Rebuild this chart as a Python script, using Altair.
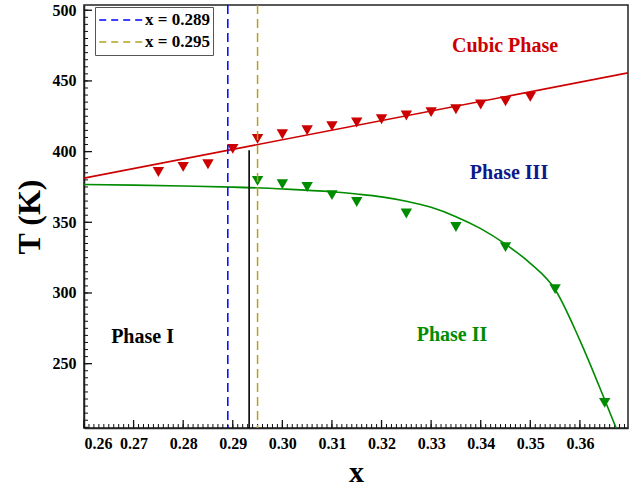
import altair as alt
import pandas as pd

# ---------------- data ----------------
red_x = [0.275, 0.280, 0.285, 0.290, 0.295, 0.300, 0.305, 0.310,
         0.315, 0.320, 0.325, 0.330, 0.335, 0.340, 0.345, 0.350]
red_T = [385.6, 389.2, 391.1, 401.9, 409.0, 412.3, 415.1, 418.0,
         420.6, 422.9, 425.5, 427.9, 430.0, 433.3, 435.6, 438.7]

green_x = [0.295, 0.300, 0.305, 0.310, 0.315, 0.325, 0.335, 0.345, 0.355, 0.365]
green_T = [379.3, 376.9, 375.0, 369.2, 364.4, 356.2, 346.7, 332.4, 302.7, 222.3]

red_fit_x = [0.26, 0.3697]
red_fit_T = [381.2, 455.7]

green_fit_x = [0.260, 0.270, 0.280, 0.290, 0.300, 0.310, 0.315, 0.320, 0.325,
               0.330, 0.335, 0.340, 0.345, 0.350, 0.355, 0.360, 0.365, 0.3673]
green_fit_T = [376.7, 376.3, 375.7, 374.9, 373.6, 371.6, 370.0, 368.0, 364.9,
               360.6, 354.0, 345.5, 334.5, 321.0, 302.5, 266.5, 224.5, 204.5]

boundary_x = [0.289, 0.295]
boundary_label = ["x = 0.289", "x = 0.295"]
boundary_color = ["#0000ff", "#b3a31c"]

black_x = [0.2933]
black_top = [401.0]

phase_text = ["Cubic Phase", "Phase III", "Phase I", "Phase II"]
phase_x = [0.3449, 0.3457, 0.2718, 0.3342]
phase_T = [475.0, 385.0, 269.0, 270.5]
phase_color = ["#cc0000", "#0a1a8a", "#000000", "#008c00"]

x_ticks = [0.26, 0.27, 0.28, 0.29, 0.30, 0.31, 0.32, 0.33, 0.34, 0.35, 0.36]
y_ticks = [250, 300, 350, 400, 450, 500]
x_minor = [round(0.26 + i * 0.001, 3) for i in range(0, 110)]
y_minor = [205 + i * 5 for i in range(0, 60)]

X_DOMAIN = [0.26, 0.3697]
Y_DOMAIN = [204.5, 503.7]

W, H = 544, 423
FONT = "Liberation Serif"
RED = "#cc0000"
GREEN = "#008c00"
TICK = "#111111"

xs = alt.Scale(domain=X_DOMAIN, nice=False, zero=False)
ys = alt.Scale(domain=Y_DOMAIN, nice=False, zero=False)

x_main = alt.Axis(values=x_ticks, format=".2f", orient="bottom", ticks=False,
                  labelPadding=7, title="x", titlePadding=6, domain=True)
y_main = alt.Axis(values=y_ticks, format="d", orient="left", ticks=False,
                  labelPadding=8, title="T (K)", titlePadding=6, domain=True)

df_red_fit = pd.DataFrame({"x": red_fit_x, "T": red_fit_T})
df_green_fit = pd.DataFrame({"x": green_fit_x, "T": green_fit_T})
df_red = pd.DataFrame({"x": red_x, "T": red_T})
df_green = pd.DataFrame({"x": green_x, "T": green_T})
df_bound = pd.DataFrame({"x": boundary_x, "label": boundary_label})
df_black = pd.DataFrame({"x": black_x, "T": black_top, "T2": [Y_DOMAIN[0]]})
df_txt = pd.DataFrame({"x": phase_x, "T": phase_T, "label": phase_text, "c": phase_color})

red_line = alt.Chart(df_red_fit).mark_line(color=RED, strokeWidth=1.6, clip=True).encode(
    x=alt.X("x:Q", scale=xs, axis=x_main),
    y=alt.Y("T:Q", scale=ys, axis=y_main),
)

green_line = alt.Chart(df_green_fit).mark_line(color=GREEN, strokeWidth=1.6,
                                               interpolate="monotone", clip=True).encode(
    x=alt.X("x:Q", scale=xs, axis=None),
    y=alt.Y("T:Q", scale=ys, axis=None),
)

red_pts = alt.Chart(df_red).mark_point(shape="triangle-down", filled=True, size=130,
                                       opacity=1, color=RED).encode(
    x=alt.X("x:Q", scale=xs, axis=None),
    y=alt.Y("T:Q", scale=ys, axis=None),
)

green_pts = alt.Chart(df_green).mark_point(shape="triangle-down", filled=True, size=130,
                                           opacity=1, color=GREEN).encode(
    x=alt.X("x:Q", scale=xs, axis=None),
    y=alt.Y("T:Q", scale=ys, axis=None),
)

bounds = alt.Chart(df_bound).mark_rule(strokeDash=[9, 5], strokeWidth=1.5, opacity=1).encode(
    x=alt.X("x:Q", scale=xs, axis=None),
    color=alt.Color(
        "label:N",
        scale=alt.Scale(domain=boundary_label, range=boundary_color),
        legend=alt.Legend(
            orient="none", legendX=11, legendY=2, title=None,
            strokeColor="#555", fillColor="white", padding=3,
            symbolType="stroke", symbolSize=1900, symbolStrokeWidth=1.5,
            symbolDash=[7, 5], symbolOpacity=1, clipHeight=20,
            labelFont=FONT, labelFontSize=17,
            labelFontWeight="bold", labelColor="black", labelOffset=1,
            rowPadding=2,
        ),
    ),
)

black_rule = alt.Chart(df_black).mark_rule(color="black", strokeWidth=1.6).encode(
    x=alt.X("x:Q", scale=xs, axis=None),
    y=alt.Y("T:Q", scale=ys, axis=None),
    y2="T2:Q",
)

texts = alt.Chart(df_txt).mark_text(font=FONT, fontSize=20, fontWeight="bold").encode(
    x=alt.X("x:Q", scale=xs, axis=None),
    y=alt.Y("T:Q", scale=ys, axis=None),
    text="label:N",
    color=alt.Color("c:N", scale=None),
)

# inward axis ticks, placed on the axis values through the scales
def x_tick_layer(vals, length, width):
    return alt.Chart(pd.DataFrame({"v": vals})).mark_rule(color=TICK, strokeWidth=width).encode(
        x=alt.X("v:Q", scale=xs, axis=None),
        y=alt.value(H),
        y2=alt.value(H - length),
    )


def y_tick_layer(vals, length, width):
    return alt.Chart(pd.DataFrame({"v": vals})).mark_rule(color=TICK, strokeWidth=width).encode(
        y=alt.Y("v:Q", scale=ys, axis=None),
        x=alt.value(0),
        x2=alt.value(length),
    )


ticks = [
    x_tick_layer(x_minor, 4, 1.0),
    x_tick_layer(x_ticks, 8, 1.3),
    y_tick_layer(y_minor, 4, 1.0),
    y_tick_layer(y_ticks, 8, 1.3),
]

chart = alt.layer(
    red_line, *ticks, green_line, red_pts, green_pts, bounds, black_rule, texts
).resolve_axis(
    x="independent", y="independent"
).properties(
    width=W, height=H,
    background="white",
    autosize=alt.AutoSizeParams(type="none"),
    padding={"left": 84, "top": 5, "right": 6, "bottom": 58},
).configure_axis(
    labelFont=FONT, labelFontWeight="bold", labelFontSize=16, labelColor="black",
    titleFont=FONT, titleFontWeight="bold", titleColor="black",
    domainColor="#222", domainWidth=1.5, grid=False,
).configure_axisX(
    titleFontSize=30,
).configure_axisY(
    titleFontSize=32,
).configure_view(
    stroke="#222", strokeWidth=1.5,
)

chart.save("out.html", embed_options={"renderer": "svg", "actions": False})
